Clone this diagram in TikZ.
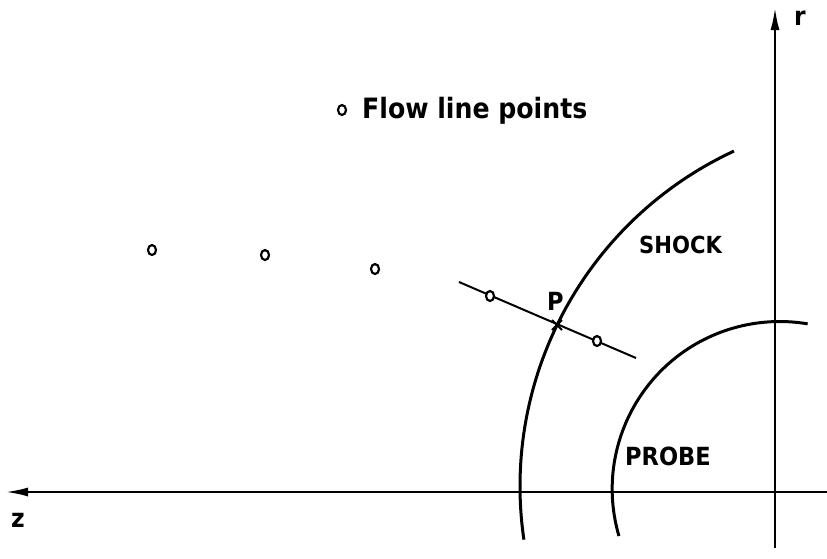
\documentclass[tikz,border=0pt]{standalone}
\usepackage{fontspec}
\newfontfamily\lab{DejaVu Sans Condensed}[BoldFont={DejaVu Sans Condensed Bold}]
\usetikzlibrary{arrows.meta,calc,shapes.geometric}
\begin{document}
\begin{tikzpicture}[x=1pt,y=-1pt,
  axis/.style={line width=2.6pt},
  axarrow/.style={axis,-{Latex[length=23pt,width=9pt]}},
  curve/.style={line width=3pt},
  flowline/.style={line width=2pt},
  flowpt/.style={ellipse,draw,line width=2.2pt,fill=white,minimum width=8pt,minimum height=10pt,inner sep=0pt},
  lbl/.style={inner sep=0pt,anchor=base west,font=\lab\bfseries},
]
\useasboundingbox (0,0) rectangle (827,558);
% axes
\coordinate (zR) at (827,492);
\coordinate (zL) at (5,492);
\coordinate (rB) at (775,548);
\coordinate (rT) at (775,7);
\draw[axarrow] (zR) -- (zL);
\draw[axarrow] (rB) -- (rT);
\node[lbl,font=\lab\bfseries\fontsize{26}{26}\selectfont] (rlab) at (794,25) {r};
\node[lbl,font=\lab\bfseries\fontsize{26}{26}\selectfont] (zlab) at (11,527) {z};
% shock (circular arc)
\coordinate (sc) at (889.6,486.3);
\draw[curve] ($(sc)+(171.7:369.6)$) arc[start angle=171.7, end angle=245.1, radius=369.6];
% probe (circular arc)
\coordinate (pc) at (779.7,489);
\draw[curve] ($(pc)+(163.7:167.5)$) arc[start angle=163.7, end angle=279.6, radius=167.5];
% labels
\node[lbl,font=\lab\bfseries\fontsize{23.5}{23.5}\selectfont] (shock) at (639,253) {SHOCK};
\node[lbl,font=\lab\bfseries\fontsize{25}{25}\selectfont] (probe) at (625,465) {PROBE};
\node[lbl,font=\lab\bfseries\fontsize{25}{25}\selectfont] (plab) at (547,310) {P};
% flow line through P
\coordinate (fa) at (459,282);
\coordinate (fb) at (636,358);
\coordinate (P) at (557,325);
\draw[flowline] (fa) -- (fb);
\draw[line width=1.8pt] ($(P)+(-5,-5)$) -- ($(P)+(5,5)$);
\draw[line width=1.8pt] ($(P)+(-5,5)$) -- ($(P)+(5,-5)$);
% flow line points
\node[flowpt] (f1) at (152,250) {};
\node[flowpt] (f2) at (265,255) {};
\node[flowpt] (f3) at (375,269) {};
\node[flowpt] (f4) at (490,296) {};
\node[flowpt] (f5) at (597,341) {};
% legend
\node[flowpt] (lg) at (342,110) {};
\node[lbl,font=\lab\bfseries\fontsize{28}{28}\selectfont] (lgtext) at (362,118) {Flow line points};
\end{tikzpicture}
\end{document}
